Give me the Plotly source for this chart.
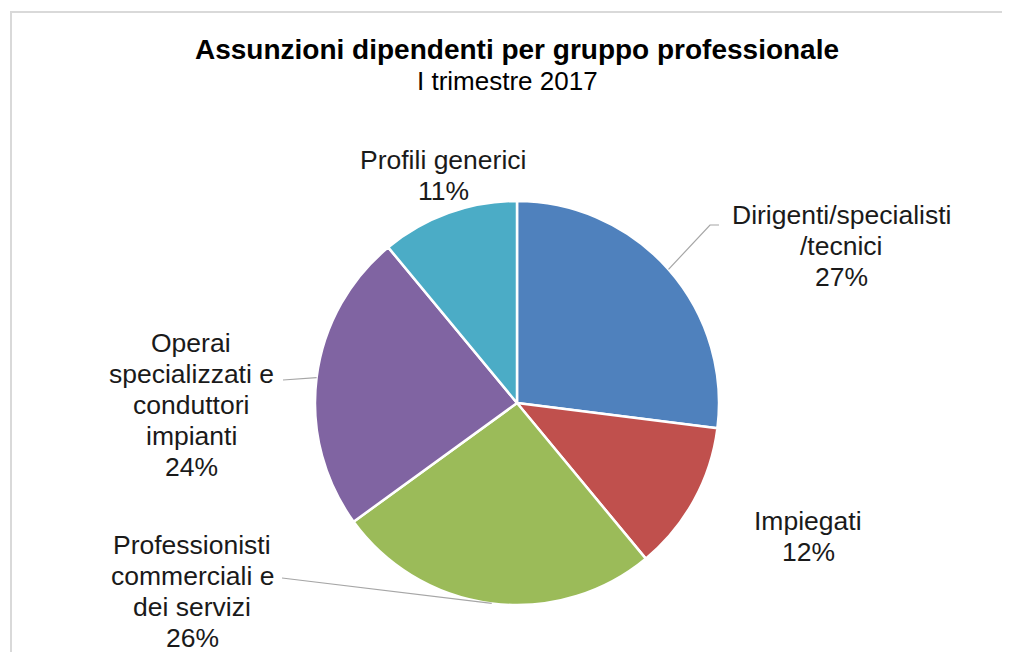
import math
import plotly.graph_objects as go

# ---- data ----
categories = ["Dirigenti/specialisti<br>/tecnici", "Impiegati",
              "Professionisti<br>commerciali e<br>dei servizi",
              "Operai<br>specializzati e<br>conduttori<br>impianti",
              "Profili generici"]
values = [27, 12, 26, 24, 11]
colors = ["#4F81BD", "#C0504D", "#9BBB59", "#8064A2", "#4BACC6"]

W, H = 1010, 652
OFF = 8  # page body margin in px
CX, CY, R = 517, 403, 202  # pie centre / radius in screen px

def px(x):
    return (x - OFF) / W

def py(y):
    return 1 - (y - OFF) / H

fig = go.Figure(go.Pie(
    labels=categories, values=values, sort=False, direction="clockwise",
    rotation=0, textinfo="none", hoverinfo="label+percent",
    marker=dict(colors=colors, line=dict(color="white", width=2.5)),
    domain=dict(x=[px(CX - R), px(CX + R)], y=[py(CY + R), py(CY - R)]),
    showlegend=False,
))

# label positions (screen px, centre of text block) and leader-line config
label_pos = [(841, 246), (808, 536), (192, 591), (191, 405), (443, 175)]
leader = {0: [(710, 225), (719, 225)], 2: [(282, 578)], 3: [(283, 380)]}
LINE_H = 31

LABEL_FONT = dict(family="Arial, Liberation Sans", size=26.5, color="#1a1a1a")

total = sum(values)
cum = 0
annotations = []
shapes = []
for i, (lab, v) in enumerate(zip(categories, values)):
    pct = round(100 * v / total)
    mid = (cum + v / 2) / total * 2 * math.pi
    cum += v
    lx, ly = label_pos[i]
    lines = lab.split("<br>") + [f"{pct}%"]
    n = len(lines)
    for k, line in enumerate(lines):
        yk = ly + (k - (n - 1) / 2) * LINE_H
        annotations.append(dict(
            x=px(lx), y=py(yk), xref="paper", yref="paper", showarrow=False,
            text=line, align="center", font=LABEL_FONT,
            xanchor="center", yanchor="middle"))
    if i in leader:
        ex = CX + R * math.sin(mid)
        ey = CY - R * math.cos(mid)
        pts = [(ex, ey)] + leader[i]
        path = "M " + " L ".join(f"{px(a):.5f},{py(b):.5f}" for a, b in pts)
        shapes.append(dict(type="path", path=path, xref="paper", yref="paper",
                           line=dict(color="#A6A6A6", width=1.2)))

# outer frame
shapes.append(dict(type="rect", xref="paper", yref="paper",
                   x0=px(11), x1=1.05, y0=-0.05, y1=py(12),
                   line=dict(color="#D9D9D9", width=2), layer="below"))

annotations.append(dict(
    x=px(517), y=py(50), xref="paper", yref="paper", showarrow=False,
    text="<b>Assunzioni dipendenti per gruppo professionale</b>",
    font=dict(family="Arial, Liberation Sans", size=28, color="#000000"),
    xanchor="center", yanchor="middle"))
annotations.append(dict(
    x=px(507), y=py(81), xref="paper", yref="paper", showarrow=False,
    text="I trimestre 2017",
    font=dict(family="Arial, Liberation Sans", size=26, color="#000000"),
    xanchor="center", yanchor="middle"))

fig.update_layout(
    width=W, height=H, margin=dict(l=0, r=0, t=0, b=0),
    paper_bgcolor="white", plot_bgcolor="white",
    annotations=annotations, shapes=shapes,
)

fig.write_html("out.html")
